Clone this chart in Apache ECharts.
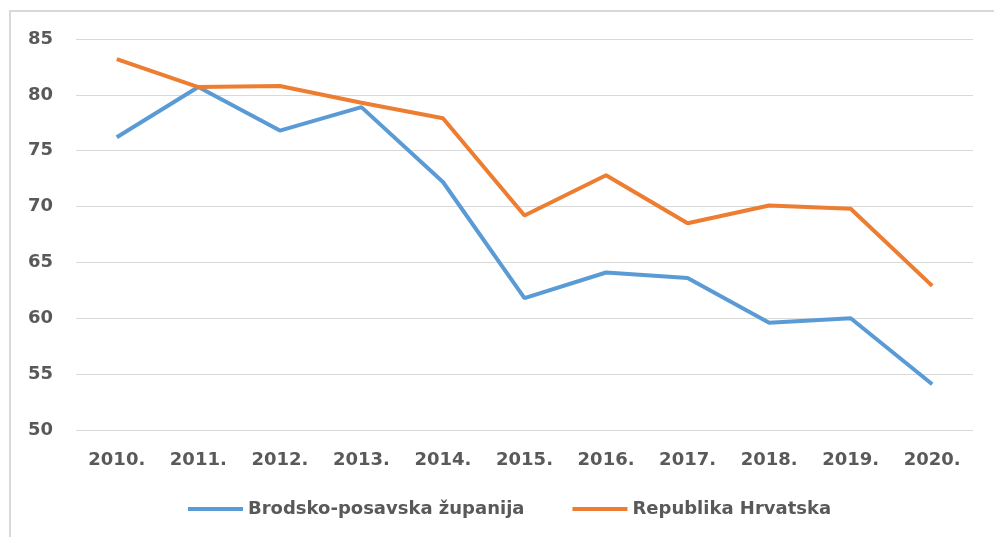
<!DOCTYPE html>
<html>
<head>
<meta charset="utf-8">
<script src="https://cdn.jsdelivr.net/npm/echarts@6/dist/echarts.min.js"></script>
<style>
  html, body { margin: 0; padding: 0; background: #fff; }
  #chart { width: 994px; height: 537px; }
</style>
</head>
<body>
<div id="chart"></div>
<script>
var years = ['2010.', '2011.', '2012.', '2013.', '2014.', '2015.', '2016.', '2017.', '2018.', '2019.', '2020.'];
var brodsko = [76.2, 80.7, 76.8, 78.9, 72.2, 61.8, 64.1, 63.6, 59.6, 60.0, 54.1];
var hrvatska = [83.2, 80.7, 80.8, 79.3, 77.9, 69.2, 72.8, 68.5, 70.1, 69.8, 62.9];
var seriesNames = ['Brodsko-posavska županija', 'Republika Hrvatska'];

var chart = echarts.init(document.getElementById('chart'));
var textFont = { fontFamily: 'DejaVu Sans', fontWeight: 'bold', fontSize: 18, color: '#595959' };

chart.setOption({
  animation: false,
  graphic: [{
    type: 'rect',
    shape: { x: 10, y: 11, width: 1000, height: 540 },
    style: { fill: 'none', stroke: '#d9d9d9', lineWidth: 2 },
    silent: true
  }],
  grid: { left: 76, right: 21, top: 39, bottom: 107 },
  legend: {
    top: 495,
    left: 183,
    icon: 'rect',
    itemWidth: 55,
    itemHeight: 4,
    itemGap: 48,
    textStyle: textFont,
    data: seriesNames
  },
  xAxis: {
    type: 'category',
    data: years,
    boundaryGap: true,
    axisLine: { show: false },
    axisTick: { show: false },
    axisLabel: Object.assign({ margin: 21 }, textFont)
  },
  yAxis: {
    type: 'value',
    min: 50,
    max: 85,
    interval: 5,
    axisLine: { show: false },
    axisTick: { show: false },
    axisLabel: Object.assign({ margin: 23 }, textFont),
    splitLine: { lineStyle: { color: '#d9d9d9', width: 1 } }
  },
  series: [
    {
      name: seriesNames[0],
      type: 'line',
      data: brodsko,
      showSymbol: false,
      lineStyle: { color: '#5b9bd5', width: 4 },
      itemStyle: { color: '#5b9bd5' }
    },
    {
      name: seriesNames[1],
      type: 'line',
      data: hrvatska,
      showSymbol: false,
      lineStyle: { color: '#ed7d31', width: 4 },
      itemStyle: { color: '#ed7d31' }
    }
  ]
});
</script>
</body>
</html>
